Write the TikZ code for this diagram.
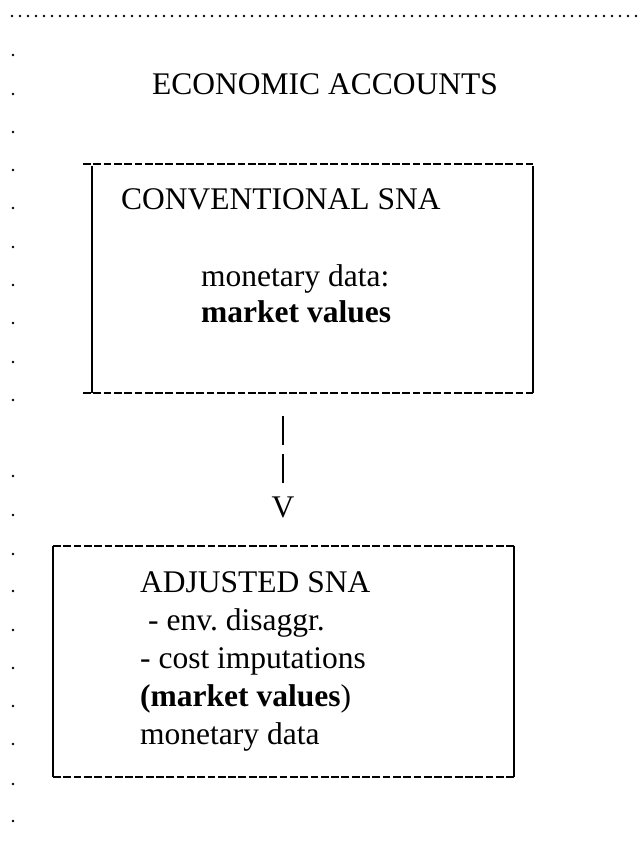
\documentclass[tikz,border=0pt]{standalone}
\usepackage{fontspec}
\setmainfont{Liberation Serif}
\usetikzlibrary{positioning}

\begin{document}
\frenchspacing
\begin{tikzpicture}[
  x=1pt, y=-1pt,
  every node/.style={font=\fontsize{31.5}{36}\selectfont, inner sep=0pt, anchor=base west},
  strong/.style={font=\fontsize{31.5}{36}\selectfont\bfseries},
  rowdot/.style={line width=2.6pt, line cap=round, dash pattern=on 0pt off 8pt},
  hyphens/.style={line width=2.2pt, dash pattern=on 7.8pt off 2.5pt},
  rule/.style={line width=1.5pt},
  bars/.style={line width=1.1pt, dash pattern=on 29pt off 9pt}
]
  \useasboundingbox (0,0) rectangle (640,857);
  % dotted rule and left margin
  \draw[rowdot] (12,16) -- (640,16);
  \foreach \y in {55,94,132,170,208,247,285,323,362,400,476,515,554,591,630,668,706,744,784,821}
    \fill (13,\y) circle (1.3pt);

  \node (title) at (152,94) {ECONOMIC ACCOUNTS};

  % conventional SNA box
  \coordinate (convNW) at (92,164);
  \coordinate (convSE) at (533,393);
  \draw[hyphens] ([xshift=-9pt]convNW) -- (convSE |- convNW);
  \draw[hyphens] ([xshift=-9pt]convNW |- convSE) -- (convSE);
  \draw[rule] ([yshift=-2pt]convNW) -- (convNW |- convSE);
  \draw[rule] ([yshift=-2pt]convSE |- convNW) -- (convSE);
  \node (conv) at (121,209) {CONVENTIONAL SNA};
  \node (convdata) at (201,286) {monetary data:};
  \node[strong] (convval) at (201,322) {market values};

  % arrow
  \coordinate (stemtop) at (283,416);
  \node[anchor=base] (vhead) at (283,517) {V};
  \draw[bars, shorten >=13pt] (stemtop) -- (vhead.north);

  % adjusted SNA box
  \coordinate (adjNW) at (53,546);
  \coordinate (adjSE) at (514,777);
  \draw[hyphens] (adjNW) -- (adjSE |- adjNW);
  \draw[hyphens] (adjNW |- adjSE) -- (adjSE);
  \draw[rule] (adjNW) -- (adjNW |- adjSE);
  \draw[rule] (adjSE |- adjNW) -- (adjSE);
  \node (adj) at (140,592) {ADJUSTED SNA};
  \node (adjenv) at (148,630) {- env. disaggr.};
  \node (adjcost) at (140,668) {- cost imputations};
  \node (adjval) at (140,706) {{\bfseries(market values})};
  \node (adjdata) at (140,744) {monetary data};
\end{tikzpicture}
\end{document}
